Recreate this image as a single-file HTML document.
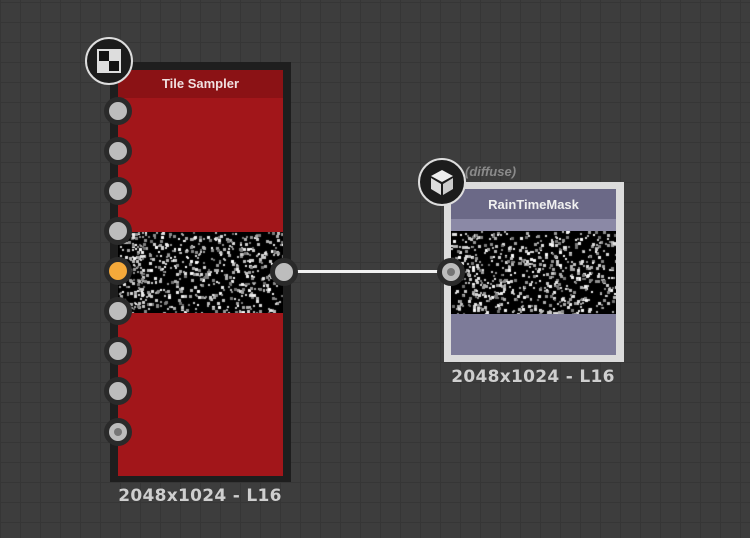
<!DOCTYPE html>
<html><head><meta charset="utf-8"><style>
html,body{margin:0;padding:0}
body{width:750px;height:538px;overflow:hidden;position:relative;background-color:#3d3d3d;
background-image:linear-gradient(#363636 1px,transparent 1px),linear-gradient(90deg,#363636 1px,transparent 1px);
background-size:20px 20px;background-position:0 2px;font-family:"Liberation Sans",sans-serif}
.abs{position:absolute}
.sock{position:absolute;width:18px;height:18px;border-radius:50%;background:#bdbdbd;border:5px solid #2a2a2a;margin:-14px 0 0 -14px}
.lbl{position:absolute;color:#cfcfcf;font-weight:bold;font-size:17px;font-family:"DejaVu Sans",sans-serif;letter-spacing:0.3px;text-align:center;width:200px}
canvas{position:absolute;background:#000}
</style></head><body>
<div class="abs" style="left:292px;top:270px;width:152px;height:3px;background:#f2f2f2"></div>

<div class="abs" style="left:110px;top:62px;width:181px;height:420px;background:#1e1e1e"></div>
<div class="abs" style="left:118px;top:70px;width:165px;height:406px;background:#a2161a"></div>
<div class="abs" style="left:118px;top:70px;width:165px;height:28px;background:#8b1215;color:#f0e0e0;font-weight:bold;font-size:13px;text-align:center;line-height:28px">Tile Sampler</div>
<canvas id="c1" width="165" height="81" style="left:118px;top:232px"></canvas>
<div class="sock" style="left:118px;top:111px"></div>
<div class="sock" style="left:118px;top:151px"></div>
<div class="sock" style="left:118px;top:191px"></div>
<div class="sock" style="left:118px;top:231px"></div>
<div class="sock" style="left:118px;top:271px;background:#f5a93a"></div>
<div class="sock" style="left:118px;top:311px"></div>
<div class="sock" style="left:118px;top:351px"></div>
<div class="sock" style="left:118px;top:391px"></div>
<div class="sock" style="left:118px;top:432px"><div style="width:8px;height:8px;border-radius:50%;background:#777;margin:5px"></div></div>
<div class="sock" style="left:284px;top:272px"></div>
<div class="abs" style="left:85px;top:37px;width:44px;height:44px;border-radius:50%;background:#1c1c1c;border:2px solid #ddd">
 <div class="abs" style="left:10px;top:10px;width:24px;height:24px;background:#ddd"></div>
 <div class="abs" style="left:12px;top:12px;width:10px;height:10px;background:#111"></div>
 <div class="abs" style="left:22px;top:22px;width:10px;height:10px;background:#111"></div>
</div>
<div class="lbl" style="left:100px;top:486px">2048x1024 - L16</div>

<div class="abs" style="left:444px;top:182px;width:180px;height:180px;background:#dcdcdc"></div>
<div class="abs" style="left:451px;top:189px;width:165px;height:166px;background:#7d7b99"></div>
<div class="abs" style="left:451px;top:189px;width:165px;height:30px;background:#6b6987;color:#f0f0f0;font-weight:bold;font-size:13px;text-align:center;line-height:32px">RainTimeMask</div>
<div class="abs" style="left:451px;top:219px;width:165px;height:12px;background:#8b89a6"></div>
<canvas id="c2" width="165" height="83" style="left:451px;top:231px"></canvas>
<div class="sock" style="left:451px;top:272px"><div style="width:8px;height:8px;border-radius:50%;background:#777;margin:5px"></div></div>
<div class="abs" style="left:418px;top:158px;width:44px;height:44px;border-radius:50%;background:#1c1c1c;border:2px solid #ddd">
<svg width="44" height="44" viewBox="0 0 44 44"><polygon points="22,10 33,16 22,22 11,16" fill="#eee"/><polygon points="11,18 21,24 21,35 11,29" fill="#ddd"/><polygon points="23,24 33,18 33,29 23,35" fill="#ccc"/></svg></div>
<div class="abs" style="left:465px;top:164px;color:#8a8a8a;font-style:italic;font-weight:bold;font-size:13px">(diffuse)</div>
<div class="lbl" style="left:433px;top:367px">2048x1024 - L16</div>

<script>
function noise(id,seed){var c=document.getElementById(id),x=c.getContext('2d');x.fillStyle='#000';x.fillRect(0,0,c.width,c.height);
var s=seed;function r(){s=(s*9301+49297)%233280;return s/233280;}
for(var i=0;i<650;i++){var v=Math.floor(110+r()*145);x.fillStyle='rgb('+v+','+v+','+v+')';var w=2+Math.floor(r()*2);x.fillRect(Math.floor(r()*c.width),Math.floor(r()*c.height),w,w);}}
noise('c1',7);noise('c2',13);
</script>
</body></html>
